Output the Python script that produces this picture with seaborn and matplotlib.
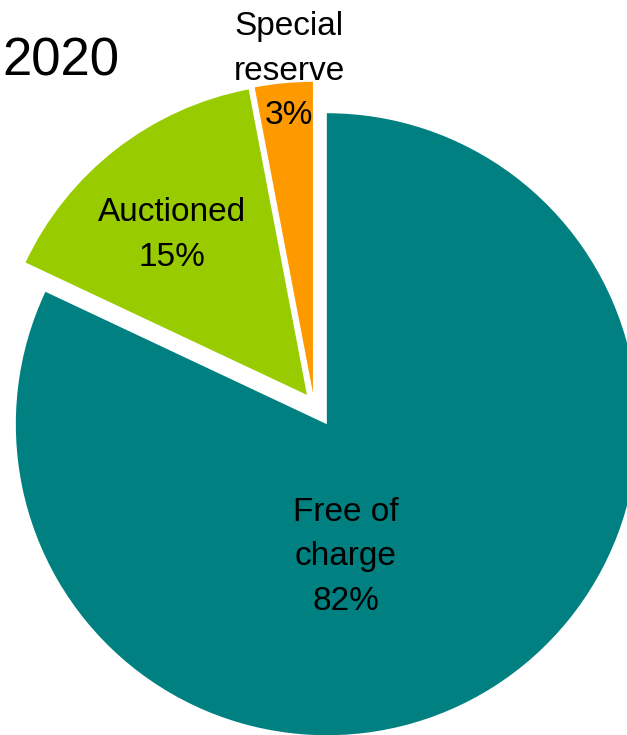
import matplotlib
matplotlib.use("Agg")
import matplotlib.pyplot as plt
import seaborn as sns

categories = ["Free of charge", "Auctioned", "Special reserve"]
label_lines = ["Free of\ncharge", "Auctioned", "Special\nreserve"]
shares = [82, 15, 3]
title = "2020"

colors = ["#008080", "#99CC00", "#FF9900"]
explode = [0.077, 0.037, 0.036]

sns.set_theme(style="white")
plt.rcParams['font.family'] = ['Liberation Sans', 'DejaVu Sans']

W, H = 627, 735
fig = plt.figure(figsize=(W / 100, H / 100), dpi=100)
ax = fig.add_axes([0, 0, 1, 1])

# pie centre and radius in pixels (layout)
cx, cy, R = 314, 404, 311
ax.pie(shares, colors=colors, explode=explode, startangle=90,
       counterclock=False, radius=1, center=(0, 0),
       wedgeprops=dict(linewidth=0))
ax.set_xlim(-cx / R, (W - cx) / R)
ax.set_ylim(-(H - cy) / R, cy / R)
ax.set_axis_off()

# label placement in pixel coords (layout)
label_pos = [(346, 557), (172, 235), (289, 71)]
fs = 24
for lab, val, (px, py) in zip(label_lines, shares, label_pos):
    fig.text(px / W, 1 - py / H, f"{lab}\n{val}%", ha="center", va="center",
             fontsize=fs, color="black", linespacing=1.55)

fig.text(2 / W, 1 - 61 / H, title, ha="left", va="center", fontsize=38,
         color="black")

fig.savefig("out.png", dpi=100)
